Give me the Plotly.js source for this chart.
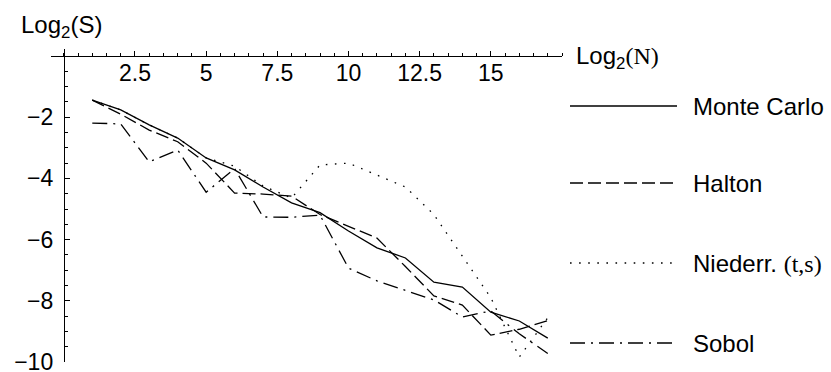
<!DOCTYPE html>
<html>
<head>
<meta charset="utf-8">
<script src="https://cdn.plot.ly/plotly-3.0.1.min.js"></script>
<style>html,body{margin:0;padding:0;background:#fff;}#chart{width:831px;height:372px;}</style>
</head>
<body>
<div id="chart"></div>
<script>
// ---- data ----
const logN = [1,2,3,4,5,6,7,8,9,10,11,12,13,14,15,16,17];
const monteCarlo = [-1.44,-1.76,-2.25,-2.68,-3.33,-3.72,-4.28,-4.80,-5.12,-5.72,-6.27,-6.60,-7.39,-7.55,-8.37,-8.66,-9.22];
const halton     = [-1.44,-1.90,-2.42,-2.80,-3.50,-4.48,-4.51,-4.58,-5.18,-5.56,-5.95,-6.88,-7.84,-8.14,-9.12,-8.93,-8.65];
const niederr    = [-1.44,-1.76,-2.25,-2.68,-3.33,-3.60,-4.25,-4.64,-3.56,-3.50,-3.89,-4.28,-5.18,-6.54,-7.90,-9.84,-8.55];
const sobol      = [-2.19,-2.22,-3.46,-3.07,-4.45,-3.68,-5.26,-5.27,-5.20,-6.93,-7.35,-7.65,-7.97,-8.53,-8.33,-9.08,-9.72];
const seriesNames = ["Monte Carlo","Halton","Niederr. <span style=\"font-family:'Liberation Serif'\">(t,s)</span>","Sobol"];
const xTickVals = [2.5,5,7.5,10,12.5,15];
const xTickText = ["2.5","5","7.5","10","12.5","15"];
const yTickVals = [-2,-4,-6,-8,-10];
const yTickText = ["\u22122","\u22124","\u22126","\u22128","\u221210"];

// ---- layout geometry ----
const W = 831, H = 372;
const L = 51, R = 269, T = 49, B = 10;
const xRange = [-0.45, 17.5];
const yRange = [-10, 0.23];
const pw = W - L - R, ph = H - T - B;
const px = x => (x - L) / pw;
const py = y => (H - B - y) / ph;

const dashes = ["solid", "13px,5px", "1.6px,7.5px", "15px,6px,2px,6px"];
const allSeries = [monteCarlo, halton, niederr, sobol];

const traces = allSeries.map((ys, i) => ({
  x: logN, y: ys, type: 'scatter', mode: 'lines',
  line: {color: '#000', width: 1.3, dash: dashes[i]},
  hoverinfo: 'skip', showlegend: false
}));

const fam = "'Liberation Sans', Arial, sans-serif";
const font = {family: fam, size: 24, color: '#000'};
const tickFont = {family: fam, size: 23, color: '#000'};

const legendY = [106, 183, 263, 343];
const shapes = legendY.map((y, i) => ({
  type: 'line', xref: 'paper', yref: 'paper',
  x0: px(570), x1: px(677), y0: py(y), y1: py(y),
  line: {color: '#000', width: 1.3, dash: dashes[i]}
}));
const annotations = legendY.map((y, i) => ({
  xref: 'paper', yref: 'paper', x: px(691), y: py(y),
  xanchor: 'left', yanchor: 'middle', showarrow: false,
  text: seriesNames[i], font: font
}));
annotations.push({
  xref: 'paper', yref: 'paper', x: px(19), y: py(26),
  xanchor: 'left', yanchor: 'middle', showarrow: false,
  text: 'Log<sub>2</sub>(S)', font: font
});
annotations.push({
  xref: 'paper', yref: 'paper', x: px(574), y: py(57),
  xanchor: 'left', yanchor: 'middle', showarrow: false,
  text: "Log<sub>2</sub><span style=\"font-family:'Liberation Serif'\">(N)</span>", font: font
});

const layout = {
  width: W, height: H,
  margin: {l: L, r: R, t: T, b: B, pad: 0},
  paper_bgcolor: '#fff', plot_bgcolor: '#fff',
  showlegend: false,
  font: font,
  xaxis: {
    range: xRange, anchor: 'free',
    position: (0 - yRange[0]) / (yRange[1] - yRange[0]),
    side: 'top', showgrid: false, zeroline: false,
    showline: true, linecolor: '#000', linewidth: 1,
    ticks: 'outside', ticklen: 5, tickwidth: 1, tickcolor: '#000',
    tickvals: xTickVals, ticktext: xTickText,
    ticklabelposition: 'inside', ticklabelstandoff: 9, ticklabeloverflow: 'allow',
    minor: {dtick: 0.5, tick0: 0, ticks: 'outside', ticklen: 3, tickcolor: '#000', tickwidth: 1, showgrid: false},
    tickfont: tickFont, fixedrange: true
  },
  yaxis: {
    range: yRange, anchor: 'free',
    position: (0 - xRange[0]) / (xRange[1] - xRange[0]),
    showgrid: false, zeroline: false,
    showline: true, linecolor: '#000', linewidth: 1,
    ticks: 'inside', ticklen: 5, tickwidth: 1, tickcolor: '#000',
    tickvals: yTickVals, ticktext: yTickText,
    ticklabelstandoff: 6, ticklabeloverflow: 'allow',
    minor: {dtick: 0.5, tick0: 0, ticks: 'inside', ticklen: 3, tickcolor: '#000', tickwidth: 1, showgrid: false},
    tickfont: tickFont, fixedrange: true
  },
  shapes: shapes,
  annotations: annotations
};

Plotly.newPlot('chart', traces, layout, {staticPlot: true, displayModeBar: false});
</script>
</body>
</html>
